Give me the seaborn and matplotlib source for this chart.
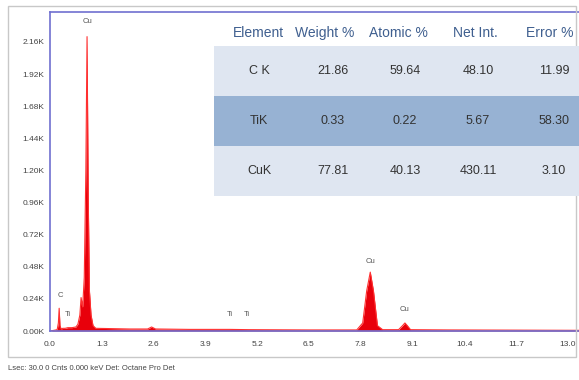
import matplotlib
matplotlib.use("Agg")
import matplotlib.pyplot as plt
from matplotlib.patches import Rectangle
from matplotlib.ticker import FuncFormatter, FixedLocator
import seaborn as sns
import pandas as pd

# EDS spectrum: energy (keV) and counts
energy = [0.00, 0.10, 0.18, 0.21, 0.23, 0.25, 0.28, 0.32, 0.38, 0.45, 0.55, 0.65,
          0.70, 0.75, 0.78, 0.82, 0.86, 0.90, 0.93, 0.96, 0.99, 1.03, 1.08, 1.15,
          1.50, 2.00, 2.45, 2.55, 2.65, 3.50, 4.50, 5.00, 6.50, 7.70, 7.85, 7.95,
          8.04, 8.12, 8.22, 8.35, 8.75, 8.85, 8.91, 8.97, 9.05, 10.0, 13.3]
counts = [0, 5, 10, 60, 170, 40, 15, 20, 20, 25, 25, 30,
          50, 120, 250, 180, 400, 1200, 2200, 1000, 300, 120, 40, 20,
          18, 15, 15, 30, 15, 12, 12, 10, 8, 8, 60, 300,
          440, 300, 40, 10, 10, 40, 60, 40, 10, 8, 5]

# peak identification labels
peak_names = ["Cu", "C", "Ti", "Ti", "Ti", "Cu", "Cu"]
peak_energy = [0.93, 0.25, 0.45, 4.51, 4.93, 8.04, 8.91]
peak_label_y = [2310, 262, 127, 127, 127, 516, 157]

x_ticks = [0.0, 1.3, 2.6, 3.9, 5.2, 6.5, 7.8, 9.1, 10.4, 11.7, 13.0]
y_ticks = [0, 240, 480, 720, 960, 1200, 1440, 1680, 1920, 2160]

# quantification table
table_cols = ["Element", "Weight %", "Atomic %", "Net Int.", "Error %"]
elements = ["C K", "TiK", "CuK"]
weight_pct = ["21.86", "0.33", "77.81"]
atomic_pct = ["59.64", "0.22", "40.13"]
net_int = ["48.10", "5.67", "430.11"]
error_pct = ["11.99", "58.30", "3.10"]

caption = "Lsec: 30.0 0 Cnts 0.000 keV Det: Octane Pro Det"

sns.set_style("white")
plt.rcParams["font.family"] = ["Liberation Sans Narrow", "Liberation Sans", "DejaVu Sans"]

W, H = 579, 380
fig = plt.figure(figsize=(W / 100, H / 100), dpi=100)


def fx(px):
    return px / W


def fy(py):
    return 1 - py / H


# outer frame
fig.patches.append(Rectangle((fx(8), fy(357)), fx(576 - 8), fy(6) - fy(357),
                             transform=fig.transFigure, fill=False,
                             edgecolor="#c8c8c8", lw=1.0))

ax = fig.add_axes([fx(50), fy(331), fx(579) - fx(50), fy(12) - fy(331)])
df = pd.DataFrame({"energy": energy, "counts": counts})
ax.fill_between(df["energy"], df["counts"], color="#e8000b", lw=0)
sns.lineplot(data=df, x="energy", y="counts", ax=ax, color="#ff3030", lw=0.8)

ax.set_xlim(0, 13.28)
ax.set_ylim(0, 2384)
ax.xaxis.set_major_locator(FixedLocator(x_ticks))
ax.yaxis.set_major_locator(FixedLocator(y_ticks))
ax.xaxis.set_major_formatter(FuncFormatter(lambda v, p: f"{v:.1f}"))
ax.yaxis.set_major_formatter(FuncFormatter(lambda v, p: f"{v / 1000:.2f}K"))
ax.tick_params(axis="both", labelsize=6, colors="#444444", length=2, width=0.6,
               pad=2, direction="out")
ax.tick_params(axis="x", pad=5)
ax.set_xlabel("")
ax.set_ylabel("")
for side in ["left", "top", "bottom"]:
    ax.spines[side].set_color("#7070d0")
    ax.spines[side].set_linewidth(1.2)
ax.spines["right"].set_visible(False)

for name, e, yv in zip(peak_names, peak_energy, peak_label_y):
    ax.text(e, yv, name, ha="center", va="center", fontsize=5.5, color="#555555")

# quantification table drawn over the plot
row_top = [46, 96, 146]
row_h = 50
row_colors = ["#dfe6f1", "#97b2d3", "#dfe6f1"]
head_x = [258, 325, 398, 475, 550]
val_x = [259, 333, 405, 478, 554]
for top, c in zip(row_top, row_colors):
    fig.patches.append(Rectangle((fx(214), fy(top + row_h)), fx(579) - fx(214),
                                 fy(top) - fy(top + row_h), transform=fig.transFigure,
                                 facecolor=c, edgecolor="none", zorder=3))
for cx, label in zip(head_x, table_cols):
    fig.text(fx(cx), fy(33), label, ha="center", va="center", fontsize=10,
             color="#3f5f8f", zorder=4)
rows = list(zip(elements, weight_pct, atomic_pct, net_int, error_pct))
for top, row in zip(row_top, rows):
    for cx, val in zip(val_x, row):
        fig.text(fx(cx), fy(top + row_h / 2), val, ha="center", va="center",
                 fontsize=9, color="#333333", zorder=4)

fig.text(fx(8), fy(368), caption, ha="left", va="center", fontsize=5.5, color="#444444")

fig.savefig("out.png", dpi=100)
